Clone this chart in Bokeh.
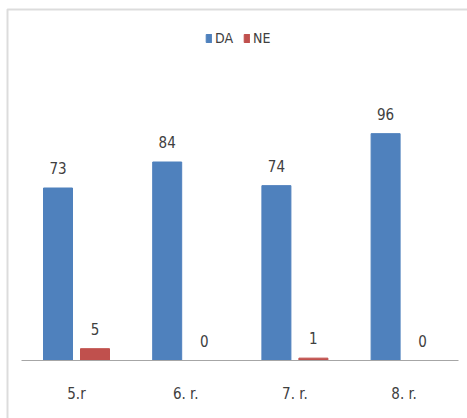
from bokeh.plotting import figure
from bokeh.models import (Range1d, FixedTicker, ColumnDataSource, Legend, LegendItem,
                          BoxAnnotation, LinearAxis)
from bokeh.core.properties import value
from bokeh.embed import file_html
from bokeh.resources import INLINE

# Survey answers per school grade
grades = ["5.r", "6. r.", "7. r.", "8. r."]
da_values = [73, 84, 74, 96]
ne_values = [5, 0, 1, 0]

W, H = 467, 418
FONT = "DejaVu Sans Condensed"
TEXT_COLOR = "#404040"

# layout in pixels: category pitch, x origin, baseline row, px per unit
pitch = 109.2
x0 = 21.4
base_px = 360
ppu = 2.363

x_start = -x0 / pitch
x_end = (W - x0) / pitch
y_end = base_px / ppu
y_start = -(H - base_px) / ppu

p = figure(width=W, height=H, output_backend="svg", toolbar_location=None,
           x_range=Range1d(x_start, x_end), y_range=Range1d(y_start, y_end),
           min_border=0, min_border_left=0, min_border_right=0,
           min_border_top=0, min_border_bottom=0,
           x_axis_location=None, y_axis_location=None)
p.outline_line_color = None
p.grid.visible = False
p.background_fill_color = "white"
p.border_fill_color = "white"

centers = [i + 0.5 for i in range(len(grades))]
bar_w = 29 / pitch
off = 18.5 / pitch

src = ColumnDataSource(dict(
    xda=[c - off for c in centers],
    xne=[c + off for c in centers],
    da=da_values, ne=ne_values,
    da_lbl=[str(v) for v in da_values],
    ne_lbl=[str(v) for v in ne_values],
))

r_da = p.vbar(x="xda", top="da", bottom=0, width=bar_w, source=src,
              fill_color="#4F81BD", line_color="#4F81BD")
r_ne = p.vbar(x="xne", top="ne", bottom=0, width=bar_w, source=src,
              fill_color="#C0504D", line_color="#C0504D")

for xcol, ycol, tcol in (("xda", "da", "da_lbl"), ("xne", "ne", "ne_lbl")):
    p.text(x=xcol, y=ycol, text=tcol, source=src, text_align="center",
           text_baseline="bottom", y_offset=-14, text_font=value(FONT),
           text_font_size="15px", text_color=TEXT_COLOR)

# category axis sitting on the zero line
xaxis = LinearAxis(fixed_location=0, bounds=(0, len(grades)))
xaxis.ticker = FixedTicker(ticks=centers)
xaxis.major_label_overrides = {c: g for c, g in zip(centers, grades)}
xaxis.axis_line_color = "#a6a6a6"
xaxis.axis_line_width = 1
xaxis.major_tick_line_color = None
xaxis.minor_tick_line_color = None
xaxis.major_label_standoff = 18
xaxis.major_label_text_font = FONT
xaxis.major_label_text_font_size = "15px"
xaxis.major_label_text_color = TEXT_COLOR
p.add_layout(xaxis, "below")

# chart area border (left and top edges)
border = BoxAnnotation(left=(7 - x0) / pitch, top=(base_px - 9) / ppu,
                       right=x_end + 5, bottom=y_start - 50,
                       fill_color=None, line_color="#8c8c8c", line_width=2)
p.add_layout(border)

legend = Legend(items=[LegendItem(label="DA", renderers=[r_da]),
                       LegendItem(label="NE", renderers=[r_ne])],
                orientation="horizontal", location=(205, H - 46),
                glyph_width=7, glyph_height=10, label_standoff=3, spacing=8,
                label_text_font=FONT, label_text_font_size="14px",
                label_text_color=TEXT_COLOR, padding=0, margin=0,
                border_line_color=None, background_fill_alpha=0)
p.add_layout(legend)

open("out.html", "w").write(file_html(p, INLINE))
